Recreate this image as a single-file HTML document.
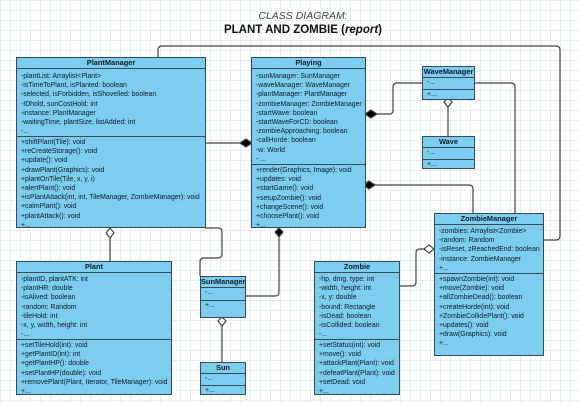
<!DOCTYPE html>
<html><head><style>
body{margin:0;width:579px;height:403px;overflow:hidden;background:#fff;
background-image:linear-gradient(#e3edf4 1px,transparent 1px),linear-gradient(90deg,#e3edf4 1px,transparent 1px);background-size:10px 10px;
font-family:"Liberation Sans",sans-serif;position:relative}
.b{position:absolute;background:#7dcdf0;border:1px solid #3a4a55;box-sizing:border-box;font-size:6.9px;color:#0d1b2a}
.h{font-weight:bold;text-align:center;border-bottom:1px solid #3a4a55;line-height:10px;height:10px;font-size:7.4px}
.s{padding:2px 0 0 4px;line-height:9.2px;white-space:nowrap;box-sizing:border-box}
.s+.s{border-top:1px solid #3a4a55;padding-top:1px}
svg{position:absolute;left:0;top:0}
</style></head><body>
<div style="position:absolute;left:0;width:606px;top:10px;text-align:center;font-style:italic;font-size:10.5px;color:#444">CLASS DIAGRAM:</div>
<div style="position:absolute;left:0;width:606px;top:24px;text-align:center;font-weight:bold;font-size:11.5px;color:#111">PLANT AND ZOMBIE (<i>report</i>)</div>

<svg width="579" height="403" fill="none" stroke="#444" stroke-width="1.2">
<path d="M158 57 V50 Q158 46 162 46 H556 Q560 46 560 50 V236 Q560 240 556 240 H543"/>
<path d="M205 143 H246"/>
<path d="M365 114 H390 Q393 114 393 110 V87 Q393 83 397 83 H422"/>
<path d="M474 83 H511 Q515 83 515 87 V213"/>
<path d="M448 106 V136"/>
<path d="M369 185 H469 Q473 185 473 189 V213"/>
<path d="M399 286 H412 Q416 286 416 282 V253 Q416 249 420 249 H424"/>
<path d="M110 238 V261"/>
<path d="M205 228 H218 Q222 228 222 232 V254 Q222 258 218 258 H204 Q200 258 200 262 V276"/>
<path d="M279 236 V292 Q279 296 275 296 H245"/>
<path d="M222 326 V362"/>
<path d="M240 143 l6 -4 l6 4 l-6 4z" fill="#000"/>
<path d="M365 114 l6 -4 l6 4 l-6 4z" fill="#000"/>
<path d="M363 185 l6 -4 l6 4 l-6 4z" fill="#000"/>
<path d="M279 228 l4 4 l-4 5 l-4 -5z" fill="#000"/>
<path d="M448 98 l4 4 l-4 5 l-4 -5z" fill="#fff"/>
<path d="M110 228 l4 5 l-4 5 l-4 -5z" fill="#fff"/>
<path d="M222 317 l4 4 l-4 5 l-4 -5z" fill="#fff"/>
<path d="M424 249 l5 -4 l5 4 l-5 4z" fill="#fff"/>
</svg>

<div class="b" style="left:16px;top:57px;width:190px;height:171px">
<div class="h">PlantManager</div>
<div class="s" style="height:67px;padding-top:3px">-plantList: Arraylist&lt;Plant&gt;<br>-isTimeToPlant, isPlanted: boolean<br>-selected, isForbidden, isShovelled: boolean<br>-IDhold, sunCostHold: int<br>-instance: PlantManager<br>-waitingTime, plantSize, listAdded: int<br>-...</div>
<div class="s">+shiftPlant(Tile): void<br>+reCreateStorage(): void<br>+update(): void<br>+drawPlant(Graphics): void<br>+plantOnTile(Tile, x, y, i)<br>+alertPlant(): void<br>+isPlantAttack(int, int, TileManager, ZombieManager): void<br>+calmPlant(): void<br>+plantAttack(): void<br>+...</div>
</div>

<div class="b" style="left:251px;top:57px;width:115px;height:171px">
<div class="h">Playing</div>
<div class="s" style="height:95px;padding-top:3px">-sunManager: SunManager<br>-waveManager: WaveManager<br>-plantManager: PlantManager<br>-zombieManager: ZombieManager<br>-startWave: boolean<br>-startWaveForCD: boolean<br>-zombieApproaching: boolean<br>-callHorde: boolean<br>-w: World<br>- ...</div>
<div class="s">+render(Graphics, Image): void<br>+updates: void<br>+startGame(): void<br>+setupZombie(): void<br>+changeScene(): void<br>+choosePlant(): void<br>+...</div>
</div>

<div class="b" style="left:422px;top:66px;width:53px;height:34px">
<div class="h">WaveManager</div>
<div class="s" style="height:11px;padding-top:0">-...</div>
<div class="s" style="padding-top:0">+...</div>
</div>
<div class="b" style="left:422px;top:136px;width:53px;height:33px">
<div class="h">Wave</div>
<div class="s" style="height:11px;padding-top:0">-...</div>
<div class="s" style="padding-top:0">+...</div>
</div>

<div class="b" style="left:434px;top:213px;width:110px;height:143px">
<div class="h">ZombieManager</div>
<div class="s" style="height:48px">-zombies: Arraylist&lt;Zombie&gt;<br>-random: Random<br>-isReset, zReachedEnd: boolean<br>-instance: ZombieManager<br>+...</div>
<div class="s">+spawnZombie(int): void<br>+move(Zombie): void<br>+allZombieDead(): boolean<br>+createHorde(int): void<br>+ZombieCollidePlant(): void<br>+updates(): void<br>+draw(Graphics): void<br>+...</div>
</div>

<div class="b" style="left:314px;top:261px;width:86px;height:134px">
<div class="h">Zombie</div>
<div class="s" style="height:66px">-hp, dmg, type: int<br>-width, height: int<br>-x, y: double<br>-bound: Rectangle<br>-isDead: boolean<br>-isCollided: boolean<br>-...</div>
<div class="s">+setStatus(int): void<br>+move(): void<br>+attackPlant(Plant): void<br>+defeatPlant(Plant): void<br>+setDead: void<br>+...</div>
</div>

<div class="b" style="left:16px;top:261px;width:156px;height:134px">
<div class="h">Plant</div>
<div class="s" style="height:66px">-plantID, plantATK: int<br>-plantHR: double<br>-isAlived: boolean<br>-random: Random<br>-tileHold: int<br>-x, y, width, height: int<br>-...</div>
<div class="s">+setTileHold(int): void<br>+getPlantID(int): int<br>+getPlantHP(): double<br>+setPlantHP(double): void<br>+removePlant(Plant, Iterator, TileManager): void<br>+...</div>
</div>

<div class="b" style="left:200px;top:276px;width:46px;height:42px">
<div class="h">SunManager</div>
<div class="s" style="height:12px;padding-top:0">-...</div>
<div class="s" style="padding-top:0">+...</div>
</div>
<div class="b" style="left:200px;top:362px;width:46px;height:33px">
<div class="h">Sun</div>
<div class="s" style="height:11px;padding-top:0">-...</div>
<div class="s" style="padding-top:0">+...</div>
</div>
</body></html>
